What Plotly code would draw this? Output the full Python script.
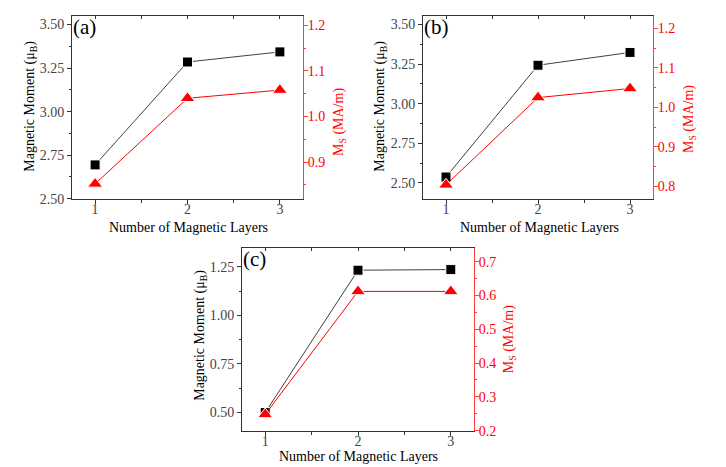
import plotly.graph_objects as go

# ---- data ----
layers = [1, 2, 3]
moment_a = [2.694, 3.285, 3.343]
ms_a = [0.852, 1.040, 1.058]
moment_b = [2.537, 3.243, 3.324]
ms_b = [0.804, 1.025, 1.048]
moment_c = [0.500, 1.232, 1.235]
ms_c = [0.248, 0.612, 0.612]
panel_labels = ["(a)", "(b)", "(c)"]
x_title = "Number of Magnetic Layers"
left_title = "Magnetic Moment (μ<sub>B</sub>)"
right_title = "M<sub>S</sub> (MA/m)"

W, H = 726, 467
FONT = "Liberation Serif"

panels = [
    dict(px=(64, 295), py=(8, 194), m=moment_a, s=ms_a, yl=[2.50, 3.55], yr=[0.8195, 1.221],
         lt=(22.5, 100), rt=(331, 116), xt=(180, 223)),
    dict(px=(415, 645), py=(8, 194), m=moment_b, s=ms_b, yl=[2.40, 3.555], yr=[0.769, 1.232],
         lt=(372.5, 100), rt=(681, 113), xt=(531, 223)),
    dict(px=(234, 466), py=(244, 430), m=moment_c, s=ms_c, yl=[0.407, 1.347], yr=[0.20, 0.741],
         lt=(192.5, 333), rt=(501, 337), xt=(350, 456)),
]

fig = go.Figure()
layout = dict(
    width=W, height=H, margin=dict(l=0, r=0, t=0, b=0),
    paper_bgcolor="white", plot_bgcolor="white", showlegend=False,
    font=dict(family=FONT, size=14, color="black"),
    annotations=[],
)


def ann(text, pos, color="black", angle=0, size=14):
    return dict(text=text, xref="paper", yref="paper",
                x=pos[0] / W, y=1 - pos[1] / H, xanchor="center", yanchor="middle",
                textangle=angle, showarrow=False,
                font=dict(family=FONT, size=size, color=color))


for i, p in enumerate(panels):
    xb, xt = 2 * i + 1, 2 * i + 2
    yl, yr = 2 * i + 1, 2 * i + 2
    def nm(k):
        return "" if k == 1 else str(k)
    xd = [p["px"][0] / W, p["px"][1] / W]
    yd = [1 - p["py"][1] / H, 1 - p["py"][0] / H]

    fig.add_trace(go.Scatter(
        x=layers, y=p["m"], xaxis="x" + nm(xb), yaxis="y" + nm(yl),
        mode="lines+markers", line=dict(color="#404040", width=1),
        marker=dict(symbol="square", size=10, color="black",
                    line=dict(color="white", width=1)),
        hoverinfo="skip"))
    fig.add_trace(go.Scatter(
        x=layers, y=p["s"], xaxis="x" + nm(xb), yaxis="y" + nm(yr),
        mode="lines+markers", line=dict(color="red", width=1),
        marker=dict(symbol="triangle-up", size=13, color="red",
                    line=dict(color="white", width=1)),
        hoverinfo="skip"))
    # dummy trace for the top axis
    fig.add_trace(go.Scatter(
        x=[2], y=[sum(p["yl"]) / 2], xaxis="x" + nm(xt), yaxis="y" + nm(yl),
        mode="markers", marker=dict(opacity=0), hoverinfo="skip"))

    layout["xaxis" + nm(xb)] = dict(
        domain=xd, anchor="y" + nm(yl), range=[0.75, 3.25],
        tickvals=[1, 2, 3], ticks="outside", ticklen=4, tickcolor="#333",
        ticklabelstandoff=-6,
        showline=True, linecolor="#333", linewidth=1, showgrid=False, zeroline=False,
        tickfont=dict(size=14, color="#444"),
        minor=dict(dtick=0.5, tick0=0, ticks="outside", ticklen=3, tickcolor="#333", showgrid=False),
    )
    layout["xaxis" + nm(xt)] = dict(
        domain=xd, anchor="y" + nm(yl), overlaying="x" + nm(xb), side="top",
        range=[0.75, 3.25], dtick=0.5, tick0=0, ticks="inside", ticklen=3,
        tickcolor="#333", showticklabels=False,
        showline=True, linecolor="#333", linewidth=1, showgrid=False, zeroline=False,
    )
    layout["yaxis" + nm(yl)] = dict(
        domain=yd, anchor="x" + nm(xb), range=p["yl"],
        dtick=0.25, tick0=0, tickformat=".2f", ticks="outside", ticklen=4, tickcolor="#333",
        showline=True, linecolor="#333", linewidth=1, showgrid=False, zeroline=False,
        tickfont=dict(size=14, color="#444"),
        minor=dict(dtick=0.125, tick0=0, ticks="outside", ticklen=2, tickcolor="#333", showgrid=False),
    )
    layout["yaxis" + nm(yr)] = dict(
        anchor="x" + nm(xb), overlaying="y" + nm(yl), side="right", range=p["yr"],
        dtick=0.1, tick0=0, tickformat=".1f", ticks="outside", ticklen=4, tickcolor="#ff4040",
        ticklabelstandoff=-3,
        showline=True, linecolor="#ff4040", linewidth=1, showgrid=False, zeroline=False,
        tickfont=dict(size=14, color="red"),
        minor=dict(dtick=0.05, tick0=0, ticks="outside", ticklen=2, tickcolor="#ff4040", showgrid=False),
    )
    layout["annotations"] += [
        ann(x_title, p["xt"]),
        ann(left_title, p["lt"], angle=-90),
        ann(right_title, p["rt"], color="red", angle=-90),
        dict(text=panel_labels[i], xref="paper", yref="paper",
             x=(p["px"][0] - 1) / W, y=1 - (p["py"][0] - 3) / H,
             xanchor="left", yanchor="top", showarrow=False,
             font=dict(family=FONT, size=21, color="black")),
    ]

fig.update_layout(**layout)
fig.write_html("out.html")
